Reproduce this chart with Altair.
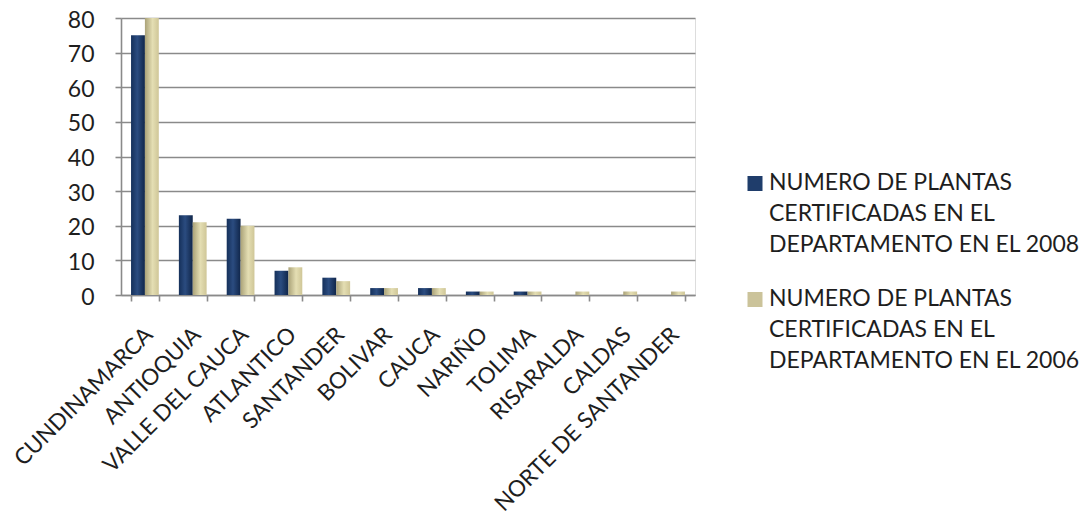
import altair as alt
import pandas as pd

# Departamentos en el orden del eje X
departamentos = [
    "CUNDINAMARCA", "ANTIOQUIA", "VALLE DEL CAUCA", "ATLANTICO", "SANTANDER",
    "BOLIVAR", "CAUCA", "NARIÑO", "TOLIMA", "RISARALDA", "CALDAS",
    "NORTE DE SANTANDER",
]
plantas_2008 = [75, 23, 22, 7, 5, 2, 2, 1, 1, 0, 0, 0]
plantas_2006 = [80, 21, 20, 8, 4, 2, 2, 1, 1, 1, 1, 1]

serie_2008 = "NUMERO DE PLANTAS CERTIFICADAS EN EL DEPARTAMENTO EN EL 2008"
serie_2006 = "NUMERO DE PLANTAS CERTIFICADAS EN EL DEPARTAMENTO EN EL 2006"
leyenda_2008 = "NUMERO DE PLANTAS|CERTIFICADAS EN EL|DEPARTAMENTO EN  EL 2008"
leyenda_2006 = "NUMERO DE PLANTAS|CERTIFICADAS EN EL|DEPARTAMENTO EN  EL 2006"

FONT = "Lato"
GRAY = "#8a8a8a"
TEXT = "#1e1e1e"
AZUL = "#1f3d6b"
ARENA = "#cbc39a"

rows = []
for d, a, b in zip(departamentos, plantas_2008, plantas_2006):
    rows.append({"dep": d, "serie": serie_2008, "valor": a})
    rows.append({"dep": d, "serie": serie_2006, "valor": b})
df = pd.DataFrame(rows)

# Sombreado horizontal para dar volumen a las barras
grad_2008 = alt.Gradient(
    gradient="linear", x1=0, y1=0, x2=1, y2=0,
    stops=[
        alt.GradientStop(color="#15305a", offset=0),
        alt.GradientStop(color="#2b4c80", offset=0.45),
        alt.GradientStop(color="#10264a", offset=1),
    ],
)
grad_2006 = alt.Gradient(
    gradient="linear", x1=0, y1=0, x2=1, y2=0,
    stops=[
        alt.GradientStop(color="#aaa278", offset=0),
        alt.GradientStop(color="#e4deb3", offset=0.55),
        alt.GradientStop(color="#cfc697", offset=1),
    ],
)

x_enc = alt.X(
    "dep:N",
    sort=departamentos,
    scale=alt.Scale(paddingInner=0.42, paddingOuter=0.21),
    axis=alt.Axis(
        title=None, labelAngle=-45, labelFontSize=22.5, labelFont=FONT,
        labelColor=TEXT, labelPadding=22, labelOffset=-4, tickBand="extent",
        tickSize=6, tickColor=GRAY, tickWidth=1.6, domainColor=GRAY,
        domainWidth=1.6, grid=False, labelLimit=400,
    ),
)
xoff = alt.XOffset("serie:N", scale=alt.Scale(domain=[serie_2008, serie_2006]))
y_enc = alt.Y(
    "valor:Q",
    scale=alt.Scale(domain=[0, 80], nice=False),
    axis=alt.Axis(
        title=None, values=list(range(0, 81, 10)), labelFontSize=23,
        labelFont=FONT, labelColor=TEXT, labelPadding=21, labelOffset=2,
        tickSize=6, tickColor=GRAY, tickWidth=1.6, domainColor=GRAY,
        domainWidth=1.6, grid=True, gridColor=GRAY, gridWidth=1.6,
    ),
)

base = alt.Chart(df).encode(x=x_enc, xOffset=xoff, y=y_enc)
barras_2008 = base.transform_filter(alt.datum.serie == serie_2008).mark_bar(color=grad_2008)
barras_2006 = base.transform_filter(alt.datum.serie == serie_2006).mark_bar(color=grad_2006)
barras = alt.layer(barras_2008, barras_2006).properties(width=574, height=277)

# Leyenda con etiquetas de tres líneas
ley_df = pd.DataFrame({
    "entrada": [0, 1],
    "serie": [serie_2008, serie_2006],
    "etiqueta": [leyenda_2008, leyenda_2006],
})
ley_base = alt.Chart(ley_df).encode(
    y=alt.Y("entrada:Q", scale=alt.Scale(domain=[0, 1], range=[154, 270]), axis=None)
)
cuadros = ley_base.mark_square(size=225, opacity=1, yOffset=11.5).encode(
    x=alt.value(8),
    color=alt.Color("serie:N", scale=alt.Scale(domain=[serie_2008, serie_2006], range=[AZUL, ARENA]), legend=None),
)
textos = ley_base.transform_calculate(lineas="split(datum.etiqueta, '|')").mark_text(
    align="left", baseline="top", lineHeight=31, fontSize=23, font=FONT, color=TEXT
).encode(x=alt.value(22), text="lineas:N")
leyenda = alt.layer(cuadros, textos).properties(
    width=300, height=300, view=alt.ViewBackground(stroke="transparent", strokeWidth=0)
)

chart = (
    alt.hconcat(barras, leyenda, spacing=51)
    .configure_view(stroke="transparent", strokeWidth=0)
    .configure(font=FONT, background="white", padding={"left": 9, "top": 8, "right": 0, "bottom": 0})
)
chart.save("out.html", embed_options={"renderer": "svg", "actions": False})
